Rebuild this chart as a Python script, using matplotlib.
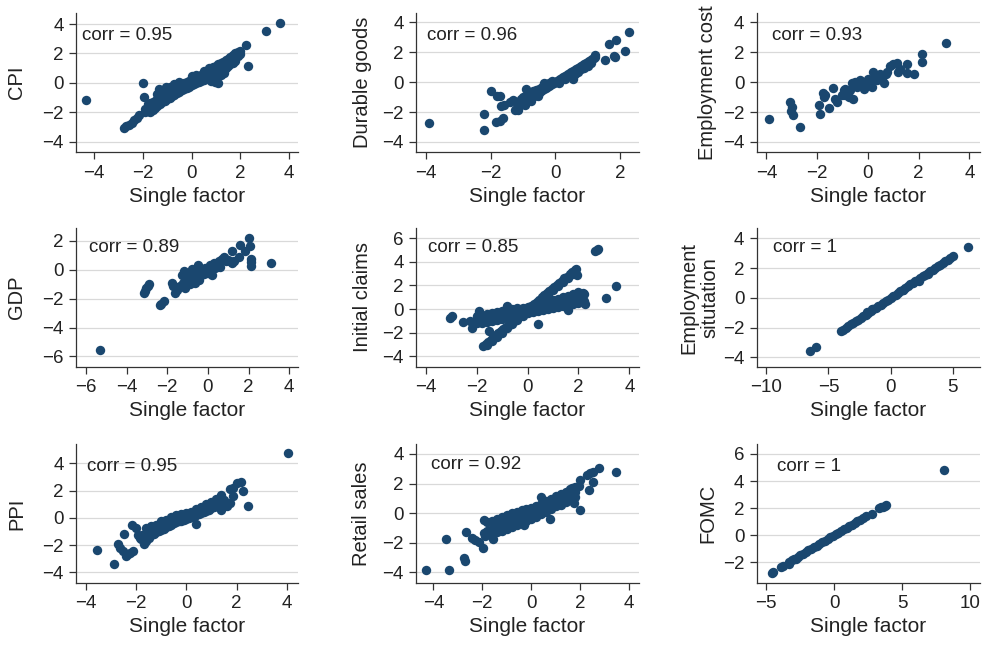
import matplotlib
matplotlib.use('Agg')
import matplotlib.pyplot as plt

plt.rcParams['font.family'] = ['Liberation Sans', 'DejaVu Sans']

# (single factor, series) pairs
cpi = [(-4.32, -1.18), (-2.79, -3.07), (-2.68, -2.95), (-2.55, -2.85), (-2.45, -2.7), (-2.35, -2.55),
       (-2.25, -2.4), (-2.15, -2.2), (-2.0, 0.0), (-1.95, -0.95), (2.25, 2.57), (2.32, 1.14), (3.07, 3.52),
       (3.64, 4.09),
       (-1.9, -1.8), (-1.9, -2.0), (-1.8, -1.6), (-1.8, -1.9), (-1.8, -1.45), (-1.7, -1.4), (-1.7, -1.75),
       (-1.7, -2.0), (-1.6, -1.3), (-1.6, -1.55), (-1.6, -1.85), (-1.5, -1.2), (-1.5, -1.5), (-1.5, -1.7),
       (-1.4, -1.1), (-1.4, -1.35), (-1.4, -1.6), (-1.4, -0.75), (-1.3, -0.9), (-1.3, -1.2), (-1.3, -1.45),
       (-1.3, -0.6), (-1.2, -0.8), (-1.2, -1.05), (-1.2, -1.3), (-1.2, -0.55), (-1.1, -0.7), (-1.1, -0.95),
       (-1.1, -1.2), (-1.0, -0.6), (-1.0, -0.85), (-1.0, -1.1), (-1.0, -0.4), (-0.9, -0.5), (-0.9, -0.75),
       (-0.9, -1.0), (-0.9, -0.3), (-0.8, -0.4), (-0.8, -0.65), (-0.8, -0.9), (-0.7, -0.3), (-0.7, -0.55),
       (-0.7, -0.8), (-0.7, -0.1), (-0.6, -0.2), (-0.6, -0.45), (-0.6, -0.7), (-0.5, -0.15), (-0.5, -0.4),
       (-0.5, -0.6), (-0.5, 0.05), (-0.4, -0.05), (-0.4, -0.3), (-0.4, -0.5), (-0.3, 0.0), (-0.3, -0.2),
       (-0.3, -0.45), (-0.2, 0.05), (-0.2, -0.15), (-0.2, -0.35), (-0.1, 0.15), (-0.1, -0.05), (-0.1, -0.25),
       (0.0, 0.3), (0.0, 0.05), (0.0, -0.15), (0.0, 0.45), (0.1, 0.35), (0.1, 0.1), (0.1, -0.1), (0.2, 0.4),
       (0.2, 0.2), (0.2, 0.0), (0.2, 0.55), (0.3, 0.5), (0.3, 0.25), (0.3, 0.05), (0.4, 0.55), (0.4, 0.35),
       (0.4, 0.15), (0.5, 0.65), (0.5, 0.45), (0.5, 0.2), (0.5, 0.8), (0.6, 0.75), (0.6, 0.5), (0.6, 0.3),
       (0.7, 0.85), (0.7, 0.6), (0.7, 0.35), (0.7, 1.0), (0.8, 0.95), (0.8, 0.7), (0.8, 0.45), (0.8, 0.15),
       (0.9, 1.05), (0.9, 0.8), (0.9, 0.55), (0.9, 0.2), (1.0, 1.15), (1.0, 0.9), (1.0, 0.6), (1.1, 1.25),
       (1.1, 1.0), (1.1, 0.7), (1.1, 0.0), (1.2, 1.35), (1.2, 1.1), (1.2, 0.8), (1.3, 1.45), (1.3, 1.2),
       (1.3, 0.9), (1.4, 1.55), (1.4, 1.3), (1.4, 1.0), (1.5, 1.65), (1.5, 1.4), (1.5, 1.15), (1.6, 1.75),
       (1.6, 1.5), (1.6, 1.25), (1.7, 1.9), (1.7, 1.6), (1.7, 1.35), (1.8, 2.0), (1.8, 1.75), (1.8, 1.5),
       (1.9, 2.1), (1.9, 1.85), (2.0, 2.2), (2.0, 1.95), (1.0, 0.35), (1.2, 0.55), (1.35, 0.65),
       (0.95, 0.05), (-1.35, -0.45), (-1.05, -0.25)]

durable = [(-3.91, -2.73), (-2.22, -2.15), (-2.2, -3.22), (-1.98, -0.58), (-1.72, -0.92), (-1.8, -0.95),
           (-1.82, -2.66), (-1.7, -2.6), (-1.62, -2.4), (-1.67, -1.61), (-1.6, -1.55), (-1.4, -1.3),
           (-1.3, -1.2), (-1.2, -1.35), (-0.9, -0.43), (-1.0, -0.98), (-1.05, -1.1),
           (-1.25, -1.85), (-1.2, -1.7), (-1.15, -1.6), (-1.1, -1.55), (-1.05, -1.45), (-1.0, -1.4),
           (-0.95, -1.3), (-0.9, -1.25), (-0.85, -1.15), (-0.8, -1.1), (-0.75, -1.0), (-0.7, -0.95),
           (-0.65, -0.9), (-0.6, -0.8), (-0.55, -0.75), (-0.5, -0.7), (-0.45, -0.6), (-0.4, -0.55),
           (-0.35, -0.45), (-0.3, -0.4), (-0.25, -0.35), (-0.2, -0.25), (-0.15, -0.2), (-0.1, -0.15),
           (-0.05, -0.05), (0.0, 0.0), (0.05, 0.05), (0.1, 0.15), (0.15, 0.2), (0.2, 0.25), (0.25, 0.35),
           (0.3, 0.4), (0.35, 0.45), (0.4, 0.55), (0.45, 0.6), (0.5, 0.7), (0.55, 0.75), (0.6, 0.8),
           (0.65, 0.9), (0.7, 0.95), (0.75, 1.0), (0.8, 1.1), (0.85, 1.15), (0.9, 1.2), (0.95, 1.3),
           (1.0, 1.35), (1.05, 1.4), (1.1, 1.5), (1.15, 1.55), (1.2, 1.6),
           (-1.1, -1.3), (-0.9, -1.0), (-0.8, -0.75), (-0.7, -0.6), (-0.6, -0.55), (-0.5, -0.45),
           (-0.4, -0.3), (-0.3, -0.15), (-0.2, -0.05), (-0.35, -0.05), (-0.1, 0.05), (0.1, -0.05),
           (0.3, 0.2), (0.5, 0.45), (0.7, 0.7), (0.9, 0.95), (1.0, 1.1), (1.1, 1.25), (0.6, 0.55),
           (0.8, 0.85), (-1.15, -1.85), (-0.95, -1.55), (-0.75, -1.25), (-0.55, -0.95),
           (0.55, 0.18), (1.22, 1.65), (1.22, 1.81), (1.53, 1.48), (1.66, 2.53), (1.87, 2.82),
           (1.81, 1.74), (2.15, 2.08), (2.28, 3.38), (1.85, 1.65)]

emp_cost = [(-3.88, -2.44), (-3.05, -1.32), (-2.99, -1.66), (-2.95, -2.21), (-3.03, -1.95), (-2.66, -3.0),
            (-1.94, -1.54), (-1.88, -2.1), (-1.77, -0.76), (-1.74, -0.98), (-1.68, -0.87), (-1.52, -1.7),
            (-1.39, -0.36), (-1.28, -1.1), (-1.22, -1.32), (-0.96, -0.54), (-0.89, -0.87), (-0.83, -0.76),
            (-0.76, -0.98), (-0.59, -1.1), (-0.63, -0.09), (-0.5, 0.02), (-0.43, -0.31), (-0.3, 0.13),
            (-0.24, -0.2), (-0.17, -0.43), (-0.04, 0.02), (0.09, -0.09), (0.16, -0.31), (0.22, 0.69),
            (0.29, 0.36), (0.35, 0.13), (0.48, 0.51), (0.55, 0.25), (0.62, -0.09), (0.75, 0.69),
            (0.88, 1.07), (1.01, 1.19), (1.14, 1.25), (1.25, 0.85), (1.53, 1.21), (1.53, 0.63),
            (1.82, 0.54), (2.12, 1.88), (2.12, 1.36), (3.07, 2.6), (-0.89, -0.43), (-1.02, -0.87),
            (-0.7, -0.5), (-0.35, -0.1), (0.0, 0.2), (0.3, 0.45), (0.7, 0.55), (1.2, 0.7), (-0.1, -0.2)]

gdp = [(-5.3, -5.54), (-3.13, -1.61), (-3.08, -1.48), (-3.03, -1.3), (-2.97, -1.1), (-2.92, -0.99),
       (-2.38, -2.46), (-2.3, -2.35), (-2.18, -2.18), (-1.77, -0.92), (-1.7, -1.1), (-1.61, -1.61),
       (-1.52, -1.38), (-1.45, -1.2), (-1.28, -0.34), (-1.2, -0.11), (-1.35, -1.1), (-1.25, -0.9),
       (-1.15, -1.25), (-1.1, -0.6), (-1.0, -0.8), (-0.95, -0.3), (-0.9, -1.0), (-0.85, -0.55),
       (-0.8, 0.05), (-0.75, -0.75), (-0.7, -0.35), (-0.65, -0.9), (-0.6, -0.1), (-0.55, -0.55),
       (-0.5, 0.3), (-0.5, -0.25), (-0.45, -0.7), (-0.4, 0.0), (-0.35, -0.4), (-0.3, -0.15),
       (-0.2, -0.3), (-0.15, 0.1), (-0.1, -0.1), (0.0, -0.2), (0.05, 0.15), (0.1, 0.35), (0.15, 0.0),
       (0.2, -0.4), (0.25, 0.2), (0.3, 0.45), (0.35, 0.1), (0.45, 0.3), (0.55, 0.6), (0.6, 0.2),
       (0.7, 0.75), (0.8, 0.85), (0.9, 0.6), (1.0, 0.7), (1.1, 0.6), (1.18, 1.31), (1.2, 0.45),
       (1.26, 0.57), (1.51, 0.85), (1.56, 1.72), (1.84, 1.26), (2.0, 2.18), (2.08, 1.61), (2.11, 0.76),
       (2.11, 0.5), (2.11, 0.23), (3.1, 0.46)]

claims = [(-2.0, -0.55), (-2.0, -0.9), (-2.0, -1.2), (-1.9, -0.2), (-1.9, -0.5), (-1.8, -0.6), (-1.8, -0.85),
          (-1.8, -1.15), (-1.6, -0.4), (-1.6, -0.75), (-1.6, -1.1), (-1.4, -0.3), (-1.4, -0.7), (-1.4, -1.05),
          (-1.2, -0.25), (-1.2, -0.6), (-1.2, -0.95), (-1.0, -0.15), (-1.0, -0.5), (-1.0, -0.85),
          (-0.8, 0.2), (-0.8, -0.4), (-0.8, -0.75), (-0.8, -0.1), (-0.6, 0.0), (-0.6, -0.35), (-0.6, -0.65),
          (-0.4, 0.05), (-0.4, -0.25), (-0.4, -0.55), (-0.2, 0.1), (-0.2, -0.15), (-0.2, -0.45),
          (0.0, 0.15), (0.0, -0.1), (0.0, -0.35), (0.2, 0.25), (0.2, 0.0), (0.2, -0.25), (0.4, 0.35),
          (0.4, 0.05), (0.4, -0.2), (0.6, 0.45), (0.6, 0.15), (0.6, -0.1), (0.8, 0.6), (0.8, 0.25),
          (0.8, 0.0), (1.0, 0.75), (1.0, 0.35), (1.0, 0.05), (1.2, 0.85), (1.2, 0.5), (1.2, 0.15),
          (1.4, 1.0), (1.4, 0.6), (1.4, 0.25), (1.6, 1.1), (1.6, 0.7), (1.6, 0.35), (1.8, 1.3), (1.8, 0.85),
          (1.8, 0.4), (2.0, 1.4), (2.0, 0.95), (2.0, 0.5), (2.2, 1.3), (2.2, 0.7),
          (-3.06, -0.76), (-2.99, -0.62), (-2.56, -1.1), (-2.27, -1.04), (-2.2, -1.6), (-1.51, -1.83),
          (2.65, 4.87), (2.72, 4.95), (2.78, 5.07), (3.48, 1.92), (3.08, 0.93), (1.93, 2.9), (2.19, 1.35),
          (2.26, 0.42), (-0.83, 0.23), (0.42, -1.27), (1.6, -0.05),
          (-1.75, -3.1), (-1.65, -2.95), (-1.55, -2.75), (-1.45, -2.6), (-1.35, -2.4), (-1.25, -2.2),
          (-1.15, -2.05), (-1.05, -1.85), (-0.95, -1.7), (-0.85, -1.5), (-0.75, -1.35), (-0.65, -1.15),
          (-0.55, -1.0), (-0.45, -0.8), (-0.35, -0.6), (-0.25, -0.45), (-0.15, -0.25), (-0.05, -0.1),
          (0.05, 0.1), (0.15, 0.25), (0.25, 0.45), (0.35, 0.6), (0.45, 0.8), (0.55, 1.0), (0.65, 1.15),
          (0.75, 1.35), (0.85, 1.5), (0.95, 1.7), (1.05, 1.85), (1.15, 2.05), (1.25, 2.2), (1.35, 2.4),
          (1.45, 2.6), (1.55, 2.75), (1.65, 2.95), (1.75, 3.1), (1.85, 3.3), (1.9, 3.4),
          (-1.6, -3.05), (-1.4, -2.7), (-1.2, -2.35), (-1.0, -2.0), (-0.8, -1.6), (-0.6, -1.25),
          (-0.4, -0.9), (-0.2, -0.55), (0.0, -0.2), (0.2, 0.15), (0.4, 0.5), (0.6, 0.85), (0.8, 1.2),
          (1.0, 1.6), (1.2, 1.95), (1.4, 2.3), (1.6, 2.65), (1.8, 3.0)]

emp_sit = [(-6.48, -3.59), (-6.0, -3.32), (6.21, 3.45),
           (-4.0, -2.24), (-3.8, -2.13), (-3.6, -2.02), (-3.4, -1.9), (-3.2, -1.79), (-3.0, -1.68),
           (-2.8, -1.57), (-2.6, -1.46), (-2.4, -1.34), (-2.2, -1.23), (-2.0, -1.12), (-1.8, -1.01),
           (-1.6, -0.9), (-1.4, -0.78), (-1.2, -0.67), (-1.0, -0.56), (-0.8, -0.45), (-0.6, -0.34),
           (-0.4, -0.22), (-0.2, -0.11), (0.0, 0.0), (0.2, 0.11), (0.4, 0.22), (0.6, 0.34), (0.8, 0.45),
           (1.0, 0.56), (1.2, 0.67), (1.4, 0.78), (1.6, 0.9), (1.8, 1.01), (2.0, 1.12), (2.2, 1.23),
           (2.4, 1.34), (2.6, 1.46), (2.8, 1.57), (3.0, 1.68), (3.2, 1.79), (3.4, 1.9), (3.6, 2.02),
           (3.8, 2.13), (4.0, 2.24), (4.2, 2.35), (4.4, 2.46), (4.6, 2.58), (4.8, 2.69), (5.0, 2.8),
           (-1.5, -0.75), (2.3, 1.12), (-1.9, -0.97), (1.0, 0.5), (3.0, 1.6)]

ppi = [(-3.55, -2.39), (-2.89, -3.37), (-2.73, -1.92), (-2.63, -2.22), (-2.53, -2.46), (-2.42, -2.78),
       (-2.33, -2.64), (-2.23, -2.59), (-2.13, -2.46), (-2.49, -1.16), (-2.15, -0.54), (-1.99, -0.74),
       (0.37, -0.42), (1.73, 2.09), (1.86, 2.22), (1.86, 1.6), (2.02, 2.53), (2.19, 2.63), (2.26, 1.97),
       (2.46, 0.86), (4.07, 4.75), (1.4, 1.72), (1.6, 0.86), (1.73, 1.06),
       (-1.93, -1.23), (-1.85, -1.45), (-1.8, -1.55), (-1.75, -1.25), (-1.7, -1.9), (-1.65, -1.4),
       (-1.6, -1.7), (-1.6, -0.75), (-1.55, -1.15), (-1.5, -1.5), (-1.45, -0.95),
       (-1.4, -0.9), (-1.4, -1.25), (-1.4, -0.6), (-1.3, -0.8), (-1.3, -1.15), (-1.2, -0.7), (-1.2, -1.05),
       (-1.2, -0.5), (-1.1, -0.65), (-1.1, -0.95), (-1.0, -0.55), (-1.0, -0.9), (-1.0, -0.25),
       (-0.9, -0.45), (-0.9, -0.8), (-0.8, -0.4), (-0.8, -0.7), (-0.8, -0.15), (-0.7, -0.3), (-0.7, -0.6),
       (-0.6, -0.2), (-0.6, -0.5), (-0.6, 0.05), (-0.5, -0.15), (-0.5, -0.4), (-0.4, -0.05), (-0.4, -0.3),
       (-0.4, 0.2), (-0.3, 0.0), (-0.3, -0.25), (-0.2, 0.05), (-0.2, -0.2), (-0.2, 0.3), (-0.1, 0.1),
       (-0.1, -0.15), (0.0, 0.15), (0.0, -0.1), (0.0, 0.35), (0.1, 0.2), (0.1, 0.0), (0.2, 0.25),
       (0.2, 0.05), (0.2, 0.45), (0.3, 0.35), (0.3, 0.1), (0.4, 0.45), (0.4, 0.2), (0.4, 0.65), (0.5, 0.5),
       (0.5, 0.3), (0.6, 0.6), (0.6, 0.35), (0.6, 0.8), (0.7, 0.7), (0.7, 0.45), (0.8, 0.8), (0.8, 0.5),
       (0.8, 1.0), (0.9, 0.9), (0.9, 0.6), (1.0, 1.0), (1.0, 0.7), (1.0, 1.2), (1.1, 1.1), (1.1, 0.8),
       (1.2, 1.2), (1.2, 0.9), (1.2, 1.4), (1.3, 1.3), (1.3, 1.0), (1.4, 1.4), (1.4, 0.6), (1.4, 1.55),
       (1.5, 1.35), (1.5, 1.1)]

retail = [(-4.29, -3.82), (-3.37, -3.87), (-3.48, -1.73), (-2.73, -3.03), (-2.71, -3.25), (-2.65, -1.28),
          (-2.42, -1.69), (-2.29, -1.8), (-2.15, -1.98), (-1.97, -2.36), (-1.95, -0.49), (-1.92, -1.35),
          (-1.88, -1.57), (-1.56, -1.75), (0.39, 1.12), (1.97, 2.25), (1.97, 0.22), (2.34, 1.53),
          (2.27, 2.58), (2.41, 2.7), (2.54, 2.81), (2.54, 2.07), (2.75, 3.03), (3.47, 2.81), (1.93, 1.8),
          (1.66, 1.69), (1.73, 0.67), (0.78, -0.4), (-0.31, -0.79),
          (-1.8, -1.2), (-1.8, -0.6), (-1.6, -1.1), (-1.6, -0.5), (-1.6, -1.45), (-1.4, -0.9), (-1.4, -0.4),
          (-1.4, -1.3), (-1.2, -0.8), (-1.2, -0.25), (-1.2, -1.2), (-1.0, -0.7), (-1.0, -0.1), (-1.0, -1.1),
          (-1.0, -0.4), (-0.8, -0.55), (-0.8, 0.0), (-0.8, -0.95), (-0.8, -0.3), (-0.6, -0.45), (-0.6, 0.05),
          (-0.6, -0.8), (-0.4, -0.3), (-0.4, 0.2), (-0.4, -0.65), (-0.2, -0.15), (-0.2, 0.3), (-0.2, -0.55),
          (0.0, 0.0), (0.0, 0.35), (0.0, -0.4), (0.2, 0.15), (0.2, 0.45), (0.2, -0.25), (0.4, 0.3),
          (0.4, 0.6), (0.4, -0.05), (0.6, 0.45), (0.6, 0.8), (0.6, 0.1), (0.8, 0.6), (0.8, 0.95), (0.8, 0.25),
          (1.0, 0.8), (1.0, 1.15), (1.0, 0.45), (1.2, 0.95), (1.2, 1.3), (1.2, 0.55), (1.4, 1.1), (1.4, 1.45),
          (1.4, 0.75), (1.6, 1.3), (1.6, 1.6), (1.6, 0.9), (1.8, 1.45), (1.8, 1.75), (1.8, 1.1),
          (-0.9, -0.6), (-0.5, -0.2), (-0.1, 0.1), (0.3, 0.3), (0.7, 0.7), (1.1, 0.95), (1.5, 1.2)]

fomc = [(-4.6, -2.78), (-4.5, -2.7), (-3.92, -2.4), (-3.8, -2.3), (-3.36, -2.15), (-3.3, -2.0), (-3.1, -1.85),
        (-2.95, -1.8), (-2.79, -1.78), (-2.7, -1.62), (-2.5, -1.5), (-2.3, -1.38), (-2.1, -1.25),
        (-1.9, -1.14), (-1.7, -1.02), (-1.5, -0.9), (-1.3, -0.78), (-1.1, -0.66), (-0.9, -0.54),
        (-0.7, -0.42), (-0.5, -0.3), (-0.3, -0.18), (-0.1, -0.06), (0.1, 0.06), (0.3, 0.18), (0.5, 0.3),
        (0.7, 0.42), (0.9, 0.54), (1.1, 0.66), (1.3, 0.78), (1.5, 0.9), (1.7, 1.02), (1.9, 1.14),
        (2.1, 1.26), (2.3, 1.38), (2.77, 1.56), (3.26, 2.0), (3.4, 2.05), (3.55, 2.1), (3.7, 2.15),
        (3.8, 2.2), (8.09, 4.83)]

series_names = ['CPI', 'Durable goods', 'Employment cost',
                'GDP', 'Initial claims', 'Employment\nsitutation',
                'PPI', 'Retail sales', 'FOMC']
corr_labels = ['corr = 0.95', 'corr = 0.96', 'corr = 0.93',
               'corr = 0.89', 'corr = 0.85', 'corr = 1',
               'corr = 0.95', 'corr = 0.92', 'corr = 1']
x_ticks = [[-4, -2, 0, 2, 4], [-4, -2, 0, 2], [-4, -2, 0, 2, 4],
           [-6, -4, -2, 0, 2, 4], [-4, -2, 0, 2, 4], [-10, -5, 0, 5],
           [-4, -2, 0, 2, 4], [-4, -2, 0, 2, 4], [-5, 0, 5, 10]]
y_ticks = [[-4, -2, 0, 2, 4], [-4, -2, 0, 2, 4], [-4, -2, 0, 2, 4],
           [-6, -4, -2, 0, 2], [-4, -2, 0, 2, 4, 6], [-4, -2, 0, 2, 4],
           [-4, -2, 0, 2, 4], [-4, -2, 0, 2, 4], [-2, 0, 2, 4, 6]]
data = [cpi, durable, emp_cost, gdp, claims, emp_sit, ppi, retail, fomc]

# layout (pixels of a 982x645 canvas) and axis ranges
col_left = [76, 416, 757]
col_width = [222, 223, 223]
row_bottom = [152, 367, 583]
row_height = 139
xlims = [(-4.74, 4.37), (-4.31, 2.59), (-4.37, 4.42),
         (-6.49, 4.43), (-4.39, 4.38), (-10.75, 7.2),
         (-4.4, 4.45), (-4.71, 4.4), (-5.68, 10.7)]
ylims = [(-4.7, 4.75), (-4.67, 4.62), (-4.67, 4.62),
         (-6.73, 2.88), (-4.9, 6.85), (-4.65, 4.7),
         (-4.78, 5.43), (-4.72, 4.67), (-3.55, 6.74)]
text_pos = [(0.026, 0.84), (0.05, 0.84), (0.066, 0.84),
            (0.06, 0.86), (0.054, 0.86), (0.07, 0.86),
            (0.05, 0.84), (0.067, 0.85), (0.088, 0.835)]
ylabel_x = [-0.266, -0.238, -0.22, -0.266, -0.239, -0.258, -0.266, -0.245, -0.22]

W, H = 982, 645
fig = plt.figure(figsize=(W / 100, H / 100), dpi=100)
fig.patch.set_facecolor('white')

for i in range(9):
    r, c = divmod(i, 3)
    ax = fig.add_axes([col_left[c] / W, 1 - row_bottom[r] / H, col_width[c] / W, row_height / H])
    xs = [p[0] for p in data[i]]
    ys = [p[1] for p in data[i]]
    ax.scatter(xs, ys, s=46, color='#1a476f', linewidths=0, zorder=3)
    ax.set_xlim(*xlims[i])
    ax.set_ylim(*ylims[i])
    ax.set_xticks(x_ticks[i])
    ax.set_yticks(y_ticks[i])
    ax.yaxis.grid(True, color='#d9d9d9', linewidth=0.9)
    ax.set_axisbelow(True)
    for side in ['top', 'right']:
        ax.spines[side].set_visible(False)
    for side in ['left', 'bottom']:
        ax.spines[side].set_color('#333333')
        ax.spines[side].set_linewidth(0.9)
    ax.tick_params(labelsize=13.5, length=5, width=0.9, pad=4, colors='#333333', labelcolor='#222222')
    ax.text(text_pos[i][0], text_pos[i][1], corr_labels[i], transform=ax.transAxes,
            fontsize=13.5, color='#222222', ha='left', va='center')
    ax.set_xlabel('Single factor', fontsize=15, color='#222222', va='center')
    ax.xaxis.set_label_coords(0.5, -44 / row_height)
    ax.set_ylabel(series_names[i], fontsize=14.5, color='#222222', va='center', linespacing=1.15)
    ax.yaxis.set_label_coords(ylabel_x[i], 0.5)

plt.savefig('out.png', dpi=100)
